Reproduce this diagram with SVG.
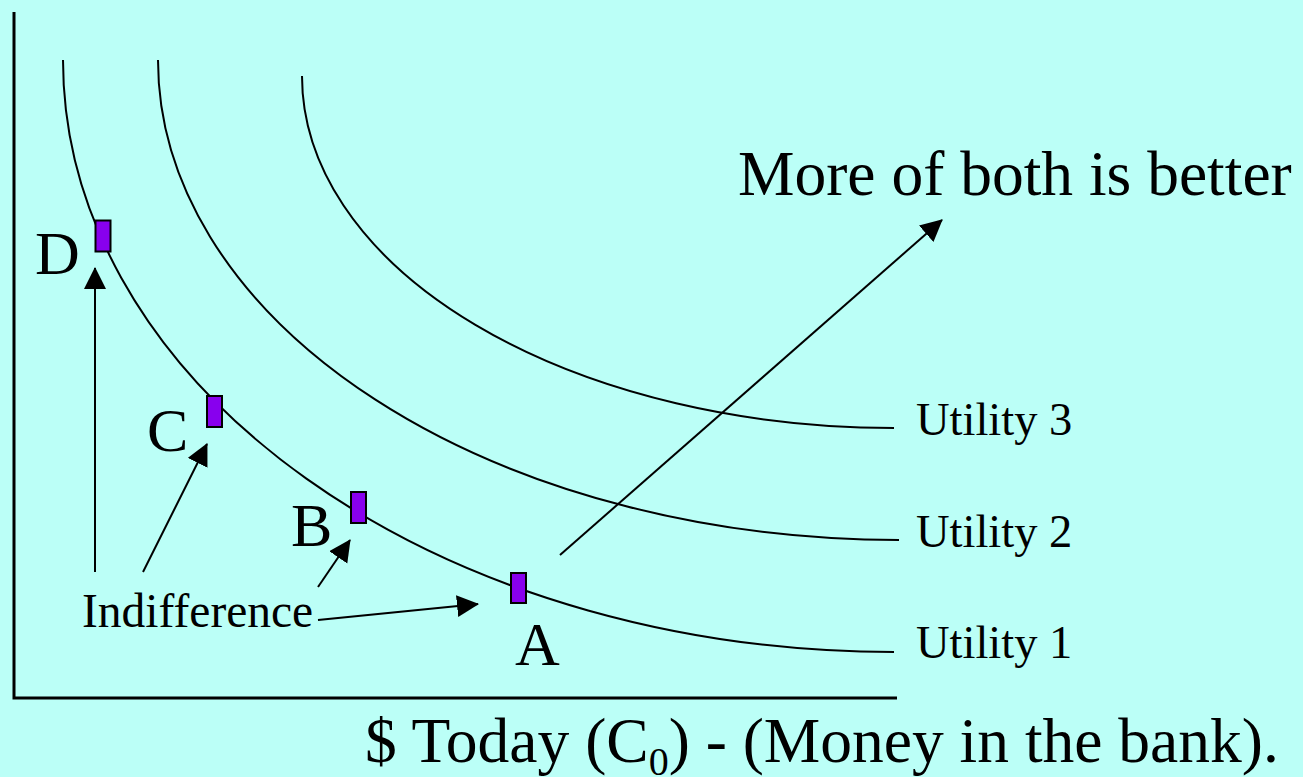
<svg xmlns="http://www.w3.org/2000/svg" width="1303" height="777" viewBox="0 0 1303 777">
  <style>
    .bg { fill: #BBFFF7; }
    .axis { stroke: #000; stroke-width: 3; fill: none; }
    .curve { stroke: #000; stroke-width: 2; fill: none; }
    .arrow { stroke: #000; stroke-width: 2; fill: none; marker-end: url(#ah); }
    .pt { fill: #8800EE; stroke: #000; stroke-width: 2; }
    text { font-family: "Liberation Serif", "Times New Roman", serif; fill: #000; }
    .big { font-size: 63.5px; }
    .lbl { font-size: 62px; }
    .util { font-size: 46.5px; }
    .ind { font-size: 47.5px; }
  </style>
  <defs>
    <marker id="ah" markerUnits="userSpaceOnUse" markerWidth="24" markerHeight="24" refX="21" refY="11" orient="auto">
      <path d="M0,0 L22,11 L0,22 z" fill="#000"/>
    </marker>
  </defs>
  <rect class="bg" x="0" y="0" width="1303" height="777"/>

  <g id="axes">
    <path class="axis" d="M14,12 L14,698 L897,698"/>
  </g>

  <g id="curves">
    <path id="utility1-curve" class="curve" d="M63,60 A831,592 0 0 0 894,652"/>
    <path id="utility2-curve" class="curve" d="M158,60 A741,480 0 0 0 899,540"/>
    <path id="utility3-curve" class="curve" d="M302,76 A592,352 0 0 0 894,428"/>
  </g>

  <g id="connectors">
    <path class="arrow" d="M95,572 L95,268"/>
    <path class="arrow" d="M143,572 L207,444"/>
    <path class="arrow" d="M318,587 L350,540"/>
    <path class="arrow" d="M318,620 L478,604"/>
    <path class="arrow" d="M560,555 L942,220"/>
  </g>

  <g id="point-D">
    <rect class="pt" x="95.5" y="220.5" width="15" height="31"/>
    <text class="lbl" x="35" y="274">D</text>
  </g>
  <g id="point-C">
    <rect class="pt" x="207" y="396" width="15" height="31"/>
    <text class="lbl" x="147" y="451">C</text>
  </g>
  <g id="point-B">
    <rect class="pt" x="351" y="492" width="15" height="31"/>
    <text class="lbl" x="291" y="546">B</text>
  </g>
  <g id="point-A">
    <rect class="pt" x="511" y="573" width="15" height="30"/>
    <text class="lbl" x="515" y="665">A</text>
  </g>

  <g id="label-indifference">
    <text class="ind" x="82" y="627">Indifference</text>
  </g>
  <g id="label-more">
    <text class="big" x="738" y="195">More of both is better</text>
  </g>
  <g id="label-utility3">
    <text class="util" x="916" y="435">Utility 3</text>
  </g>
  <g id="label-utility2">
    <text class="util" x="916" y="547">Utility 2</text>
  </g>
  <g id="label-utility1">
    <text class="util" x="916" y="658">Utility 1</text>
  </g>
  <g id="label-x-axis">
    <text class="big" x="365" y="762">$ Today (C<tspan font-size="40" dy="13">0</tspan><tspan dy="-13">) - (Money in the bank).</tspan></text>
  </g>
</svg>
